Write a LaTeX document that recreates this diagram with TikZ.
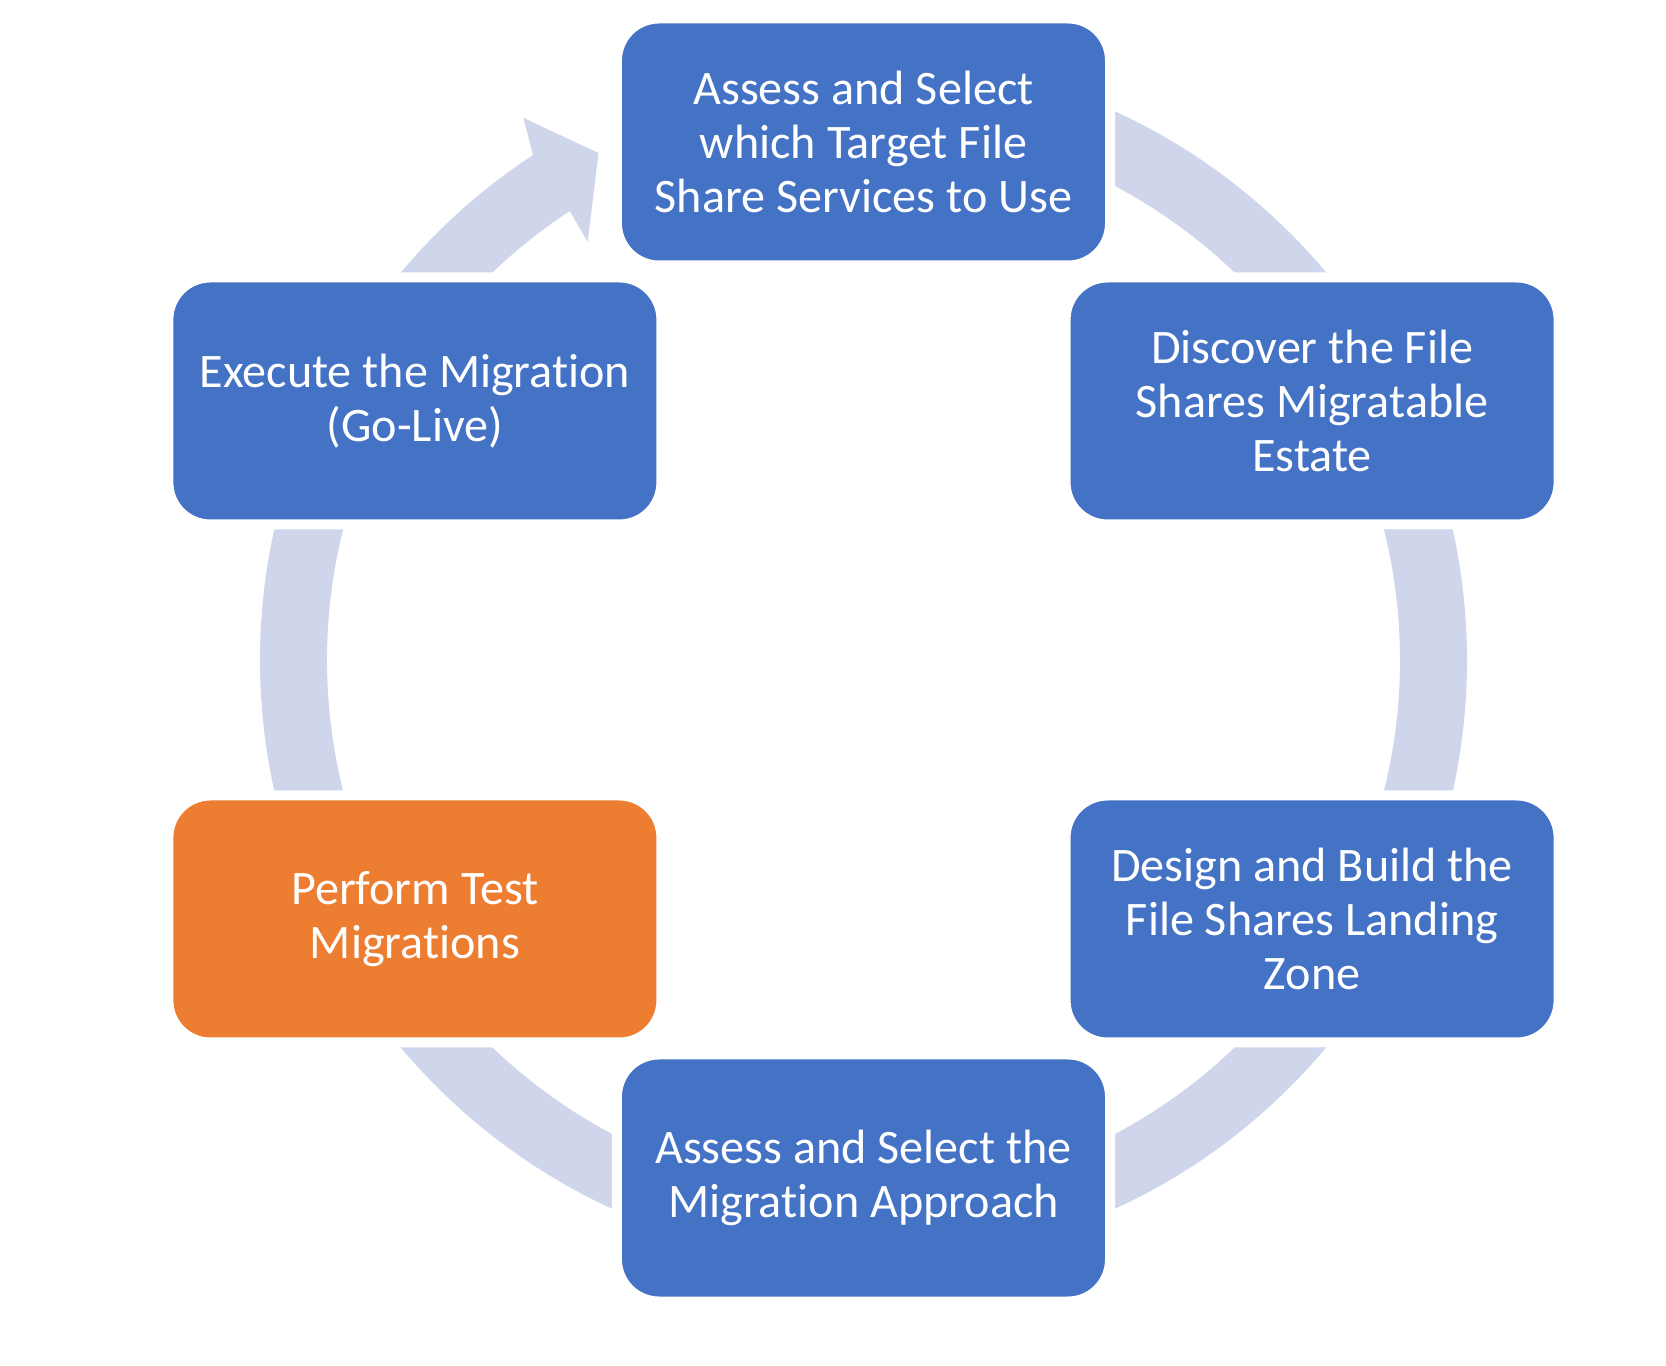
\documentclass[tikz,border=0pt]{standalone}
\usepackage{fontspec}
\setmainfont{Carlito}[Ligatures=NoCommon]
\usepackage{tikz}

\definecolor{phaseblue}{HTML}{4472C4}
\definecolor{phaseorange}{HTML}{ED7D31}
\definecolor{ringgray}{HTML}{CFD5EA}

\tikzset{
	phase/.style={rectangle, rounded corners=0.42cm, draw=white, line width=0.1cm,
		fill=phaseblue, text=white, align=center, minimum width=4.93cm,
		minimum height=2.47cm, font=\fontsize{13.7}{15.3}\selectfont},
	ringline/.style={ringgray, line width=0.67cm}
}

\begin{document}
\begin{tikzpicture}
		\useasboundingbox (-8.635,-7.06) rectangle (8.025,6.60);
		% cycle ring
		\draw[ringline] (95:5.70) arc[start angle=95, end angle=-237.3, radius=5.70];
		\fill[ringgray] (123.2:6.035) -- (122.1:6.40) -- (117.6:5.72)
			-- (123.4:5.01) -- (123.2:5.365) -- cycle; % arrow head
		
		% phases
		\node[phase] (assess) at (90:5.18) {Assess and Select\\which Target File\\Share Services to Use};
		\node[phase] (discover) at (30:5.18) {Discover the File\\Shares Migratable\\Estate};
		\node[phase] (design) at (-30:5.18) {Design and Build the\\File Shares Landing\\Zone};
		\node[phase] (approach) at (-90:5.18) {Assess and Select the\\Migration Approach};
		\node[phase, fill=phaseorange] (test) at (-150:5.18) {Perform Test\\Migrations};
		\node[phase] (execute) at (150:5.18) {Execute the Migration\\(Go-Live)};
		
	\end{tikzpicture}
\end{document}
